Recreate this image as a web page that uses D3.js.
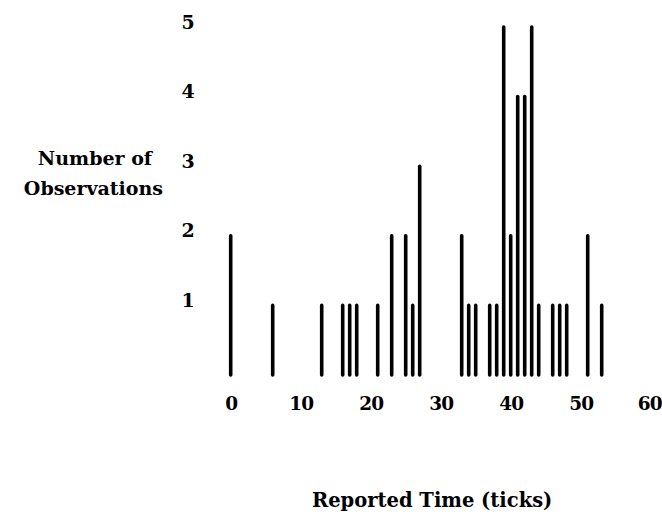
<!DOCTYPE html>
<html>
<head>
<meta charset="utf-8">
<script src="https://cdn.jsdelivr.net/npm/d3@7"></script>
<style>
  html, body { margin: 0; padding: 0; background: #fff; }
  svg { display: block; }
  text { font-family: "DejaVu Serif", "Liberation Serif", serif; font-weight: bold; fill: #000; }
</style>
</head>
<body>
<script>
// Reported time (ticks) and number of observations at that time
const times  = [0, 6, 13, 16, 17, 18, 21, 23, 25, 26, 27, 33, 34, 35, 37, 38, 39, 40, 41, 42, 43, 44, 46, 47, 48, 51, 53];
const counts = [2, 1, 1,  1,  1,  1,  1,  2,  2,  1,  3,  2,  1,  1,  1,  1,  5,  2,  4,  4,  5,  1,  1,  1,  1,  2,  1];
const xTicks = [0, 10, 20, 30, 40, 50, 60];
const yTicks = [1, 2, 3, 4, 5];
const xTitle = "Reported Time (ticks)";
const yTitleLines = ["Number of", "Observations"];

const W = 662, H = 519;
const svg = d3.select("body").append("svg").attr("width", W).attr("height", H);
svg.append("rect").attr("width", W).attr("height", H).attr("fill", "#fff");

const x = d3.scaleLinear().domain([0, 60]).range([230.7, 650.7]);
const y = d3.scaleLinear().domain([0, 5]).range([375, 27]);

const data = times.map((t, i) => ({ t, c: counts[i] }));

svg.append("g").selectAll("line").data(data).join("line")
  .attr("x1", d => x(d.t)).attr("x2", d => x(d.t))
  .attr("y1", y(0)).attr("y2", d => y(d.c))
  .attr("stroke", "#000").attr("stroke-width", 3.6).attr("stroke-linecap", "round");

// x axis labels
const xAxis = svg.append("g").attr("transform", `translate(0,${y(0)})`)
  .call(d3.axisBottom(x).tickValues(xTicks).tickSize(0).tickPadding(0).tickFormat(d3.format("d")));
xAxis.select(".domain").remove();
xAxis.selectAll("text").attr("y", 35).attr("dy", 0)
  .style("font-size", "18.5px").style("letter-spacing", "-1px")
  .style("font-family", "DejaVu Serif").style("font-weight", "bold");
// keep the last label inside the window
xAxis.selectAll(".tick").filter(d => d === 60).select("text")
  .attr("text-anchor", "end").attr("x", W - 1 - x(60));

// y axis labels
const yAxis = svg.append("g").attr("transform", `translate(188,0)`)
  .call(d3.axisLeft(y).tickValues(yTicks).tickSize(0).tickPadding(0).tickFormat(d3.format("d")));
yAxis.select(".domain").remove();
yAxis.selectAll("text").attr("x", 0).attr("dy", 1).attr("text-anchor", "middle")
  .style("font-size", "19px").style("font-family", "DejaVu Serif").style("font-weight", "bold");

// y title
const yt = svg.append("text").attr("text-anchor", "end").style("font-size", "19px");
yt.selectAll("tspan").data(yTitleLines).join("tspan")
  .attr("x", (d, i) => i === 0 ? 152 : 163)
  .attr("y", (d, i) => 165 + i * 30)
  .text(d => d);

// x title
svg.append("text").attr("x", 312).attr("y", 507).attr("text-anchor", "start")
  .style("font-size", "19.5px").text(xTitle);
</script>
</body>
</html>
